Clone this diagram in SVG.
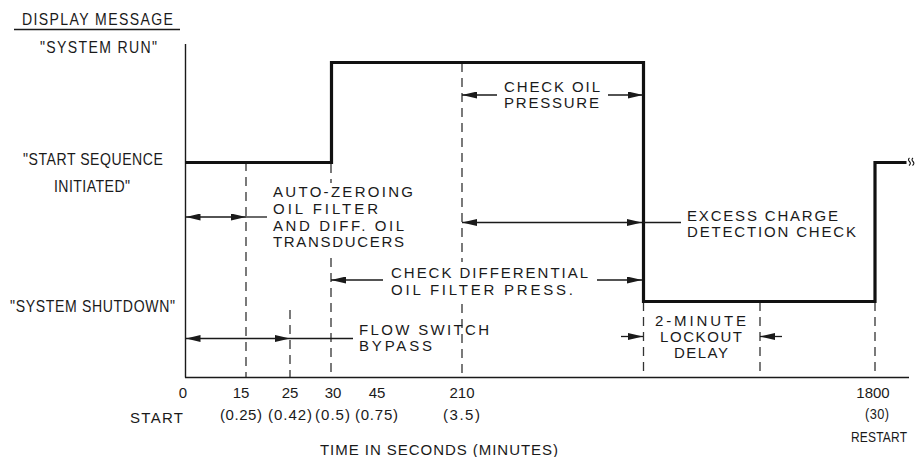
<svg xmlns="http://www.w3.org/2000/svg" width="917" height="457" viewBox="0 0 917 457">
<defs>
<style>
.t{font-family:"Liberation Sans",Arial,sans-serif;font-size:15px;fill:#1a1a1a}
.tl{font-family:"Liberation Sans",Arial,sans-serif;font-size:16px;fill:#1a1a1a}
.m{text-anchor:middle}
.ax{stroke:#1a1a1a;stroke-width:1.4;fill:none}
.sig{stroke:#111;stroke-width:3.2;fill:none;stroke-linejoin:miter}
.dash{stroke:#333;stroke-width:1.3;fill:none;stroke-dasharray:9 6}
.dim{stroke:#1a1a1a;stroke-width:1.3;fill:none}
.arr{marker-end:url(#ah)}
.arr2{marker-start:url(#ah);marker-end:url(#ah)}
</style>
<marker id="ah" markerUnits="userSpaceOnUse" markerWidth="15" markerHeight="7" refX="15" refY="3.5" orient="auto-start-reverse">
<path d="M0,0 L15,3.5 L0,7 z" fill="#1a1a1a"/>
</marker>
</defs>
<rect width="917" height="457" fill="#fff"/>

<g id="axes">
<line class="ax" x1="14" y1="29.5" x2="180" y2="29.5"/>
<line class="ax" x1="185.5" y1="44" x2="185.5" y2="377.5"/>
<line class="ax" x1="185" y1="377.5" x2="909" y2="377.5"/>
</g>

<g id="guides">
<line class="dash" x1="246" y1="162" x2="246" y2="377"/>
<line class="dash" x1="290" y1="310" x2="290" y2="377"/>
<line class="dash" x1="331" y1="164" x2="331" y2="183"/>
<line class="dash" x1="331" y1="258" x2="331" y2="377"/>
<line class="dash" x1="462" y1="63" x2="462" y2="262"/>
<line class="dash" x1="462" y1="304" x2="462" y2="377"/>
<line class="dash" x1="643.5" y1="302" x2="643.5" y2="377"/>
<line class="dash" x1="760" y1="302" x2="760" y2="377"/>
<line class="dash" x1="875" y1="302" x2="875" y2="377"/>
</g>

<g id="signal">
<path class="sig" d="M185,162.5 H331.5 V62.5 H643.5 V301.5 H875 V162.5 H906.5"/>
<path d="M909.5,158 q-2,1.5 0,3.5 q2,2 -0.5,4 M913,158 q-2,1.5 0,3.5 q2,2 -0.5,4" stroke="#111" stroke-width="1.1" fill="none"/>
</g>

<g id="connectors">
<path class="dim arr2" d="M185.5,217 H246"/>
<path class="dim" d="M246,217 H267"/>
<path class="dim arr2" d="M185.5,338.5 H290"/>
<path class="dim" d="M290,338.5 H353"/>
<path class="dim arr" d="M497,95 H462"/>
<path class="dim arr" d="M608,95 H643"/>
<path class="dim arr2" d="M462,222.5 H642"/>
<path class="dim" d="M643,222.5 H681"/>
<path class="dim arr" d="M383,280 H331"/>
<path class="dim arr" d="M597,280 H642"/>
<path class="dim arr" d="M621,336.5 H643"/>
<path class="dim arr" d="M782,336.5 H760"/>
</g>

<g id="left-labels">
<text class="tl" transform="translate(22,25) scale(0.88,1)" textLength="171.6" lengthAdjust="spacing">DISPLAY MESSAGE</text>
<text class="tl" transform="translate(40,53) scale(0.88,1)" textLength="133" lengthAdjust="spacing">"SYSTEM RUN"</text>
<text class="tl" transform="translate(23,165) scale(0.88,1)" textLength="159" lengthAdjust="spacing">"START SEQUENCE</text>
<text class="tl" transform="translate(54,192) scale(0.88,1)" textLength="86.4" lengthAdjust="spacing">INITIATED"</text>
<text class="tl" transform="translate(10,312) scale(0.88,1)" textLength="187.5" lengthAdjust="spacing">"SYSTEM SHUTDOWN"</text>
</g>

<g id="auto-zeroing">
<text class="t" x="273" y="197" textLength="140" lengthAdjust="spacing">AUTO-ZEROING</text>
<text class="t" x="273" y="214" textLength="105" lengthAdjust="spacing">OIL FILTER</text>
<text class="t" x="273" y="231" textLength="131" lengthAdjust="spacing">AND DIFF. OIL</text>
<text class="t" x="273" y="247" textLength="131" lengthAdjust="spacing">TRANSDUCERS</text>
</g>

<g id="check-oil-pressure">
<text class="t" x="504" y="92" textLength="96" lengthAdjust="spacing">CHECK OIL</text>
<text class="t" x="504" y="108" textLength="95" lengthAdjust="spacing">PRESSURE</text>
</g>

<g id="excess-charge">
<text class="t" x="687" y="221" textLength="151" lengthAdjust="spacing">EXCESS CHARGE</text>
<text class="t" x="687" y="237" textLength="169" lengthAdjust="spacing">DETECTION CHECK</text>
</g>

<g id="check-differential">
<text class="t" x="391" y="278" textLength="197" lengthAdjust="spacing">CHECK DIFFERENTIAL</text>
<text class="t" x="391" y="295" textLength="182" lengthAdjust="spacing">OIL FILTER PRESS.</text>
</g>

<g id="flow-switch">
<text class="t" x="359" y="335" textLength="130" lengthAdjust="spacing">FLOW SWITCH</text>
<text class="t" x="359" y="351" textLength="73" lengthAdjust="spacing">BYPASS</text>
</g>

<g id="lockout">
<text class="t" x="655" y="326" textLength="91" lengthAdjust="spacing">2-MINUTE</text>
<text class="t" x="660" y="342" textLength="82" lengthAdjust="spacing">LOCKOUT</text>
<text class="t" x="674" y="358" textLength="54" lengthAdjust="spacing">DELAY</text>
</g>

<g id="axis-labels">
<text class="t m" x="183" y="398">0</text>
<text class="t m" x="241" y="398">15</text>
<text class="t m" x="290" y="398">25</text>
<text class="t m" x="333" y="398">30</text>
<text class="t m" x="377" y="398">45</text>
<text class="t m" x="462" y="398">210</text>
<text class="t m" x="873" y="398">1800</text>
<text class="t" x="130" y="423" textLength="53" lengthAdjust="spacing">START</text>
<text class="t" x="220" y="420" textLength="42" lengthAdjust="spacing">(0.25)</text>
<text class="t" x="268" y="420" textLength="44" lengthAdjust="spacing">(0.42)</text>
<text class="t" x="315" y="420" textLength="35" lengthAdjust="spacing">(0.5)</text>
<text class="t" x="355" y="420" textLength="43" lengthAdjust="spacing">(0.75)</text>
<text class="t" x="443" y="420" textLength="37" lengthAdjust="spacing">(3.5)</text>
<text class="t" transform="translate(865,419) scale(0.85,1)" textLength="28.2" lengthAdjust="spacing">(30)</text>
<text class="t" transform="translate(851,442) scale(0.8,1)" textLength="70" lengthAdjust="spacing">RESTART</text>
<text class="t" x="320" y="455" textLength="238" lengthAdjust="spacing">TIME IN SECONDS (MINUTES)</text>
</g>
</svg>
